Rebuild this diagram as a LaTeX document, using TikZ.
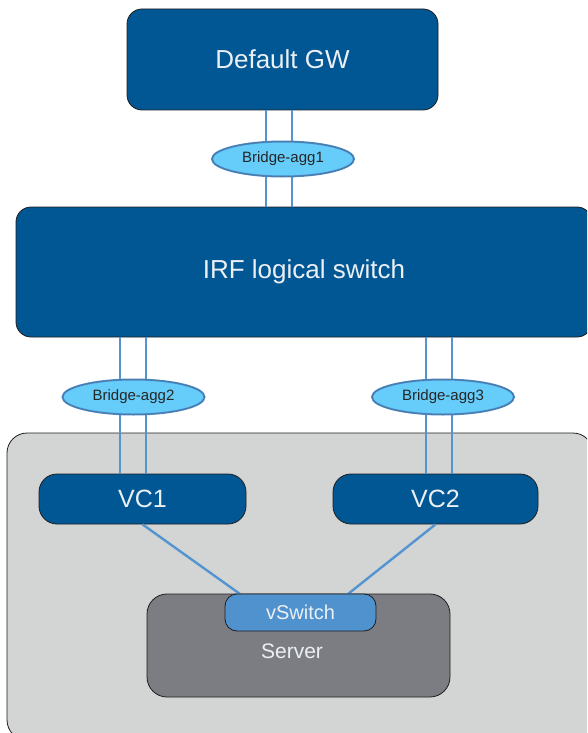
\documentclass[tikz,border=0pt]{standalone}
\usepackage{fontspec}
\setmainfont{Liberation Sans}
\usetikzlibrary{shapes.geometric,calc}

\definecolor{navy}{RGB}{1,87,148}
\definecolor{linkblue}{RGB}{84,148,208}
\definecolor{aggfill}{RGB}{102,204,250}
\definecolor{aggedge}{RGB}{70,140,205}
\definecolor{vswfill}{RGB}{80,146,206}
\definecolor{srvgray}{RGB}{123,125,131}
\definecolor{hostgray}{RGB}{211,212,212}
\definecolor{edge}{RGB}{30,30,30}
\definecolor{lighttext}{RGB}{236,240,245}

\tikzset{
  devbox/.style={draw=edge, line width=0.8pt, fill=navy, rounded corners=15pt,
                 text=lighttext, inner sep=0pt},
  aggnode/.style={ellipse, draw=aggedge, line width=2pt, fill=aggfill,
                  minimum width=142pt, minimum height=35pt, inner sep=0pt,
                  font=\fontsize{15}{17}\selectfont, text=black!85,
                  postaction={draw=edge!70, line width=0.5pt, dash pattern=on 1.5pt off 1pt}},
  link/.style={draw=linkblue, line width=2.6pt},
}

\begin{document}
\begin{tikzpicture}[x=1pt,y=-1pt]
  \useasboundingbox (0,0) rectangle (587,733);
  \clip (0,0) rectangle (587,733);

  % host enclosure, running past the right and bottom edges
  \node[draw=edge, line width=0.8pt, fill=hostgray, rounded corners=20pt,
        minimum width=586pt, minimum height=307pt, inner sep=0pt] (host) at (300,586.5) {};

  % devices
  \node[devbox, minimum width=311pt, minimum height=101pt,
        font=\fontsize{26}{30}\selectfont] (gw) at (282.5,59.5) {Default GW};
  \node[devbox, minimum width=576pt, minimum height=130pt,
        font=\fontsize{26}{30}\selectfont] (irf) at (304,272) {IRF logical switch};
  \node[devbox, rounded corners=18pt, minimum width=207pt, minimum height=50pt,
        font=\fontsize{25}{28}\selectfont] (vc1) at (142.5,499) {VC1};
  \node[devbox, rounded corners=18pt, minimum width=205pt, minimum height=50pt,
        font=\fontsize{25}{28}\selectfont] (vc2) at (435.5,499) {VC2};

  % centres of the aggregation ellipses
  \path (283,159) coordinate (a1) (133.5,397) coordinate (a2) (443,397) coordinate (a3);

  % aggregated links
  \draw[link] ([xshift=-17pt]a1 |- gw.south) -- ([xshift=-17pt]a1 |- irf.north);
  \draw[link] ([xshift=9pt]a1 |- gw.south) -- ([xshift=9pt]a1 |- irf.north);
  \draw[link] ([xshift=-13.5pt]a2 |- irf.south) -- ([xshift=-13.5pt]a2 |- vc1.north);
  \draw[link] ([xshift=12.5pt]a2 |- irf.south) -- ([xshift=12.5pt]a2 |- vc1.north);
  \draw[link] ([xshift=-17pt]a3 |- irf.south) -- ([xshift=-17pt]a3 |- vc2.north);
  \draw[link] ([xshift=9pt]a3 |- irf.south) -- ([xshift=9pt]a3 |- vc2.north);

  \node[aggnode] (ag1) at (a1) {Bridge-agg1};
  \node[aggnode] (ag2) at (a2) {Bridge-agg2};
  \node[aggnode] (ag3) at (a3) {Bridge-agg3};

  % server with its virtual switch
  \node[draw=edge, line width=0.8pt, fill=srvgray, rounded corners=20pt,
        minimum width=303pt, minimum height=103pt, inner sep=0pt] (srv) at (298.5,645.5) {};
  \node[text=lighttext, font=\fontsize{21}{24}\selectfont, inner sep=0pt] (srvlabel) at (292,651) {Server};

  \coordinate (vswleft) at (240,594);
  \coordinate (vswright) at (348,594);
  \draw[link, line width=2.4pt] (vc1.south) -- (vswleft);
  \draw[link, line width=2.4pt] (vc2.south) -- (vswright);

  \node[draw=edge, line width=0.8pt, fill=vswfill, rounded corners=12pt,
        minimum width=151pt, minimum height=37pt, inner sep=0pt, text=lighttext,
        font=\fontsize{20}{24}\selectfont] (vsw) at (300.5,612.5) {vSwitch};
\end{tikzpicture}
\end{document}
